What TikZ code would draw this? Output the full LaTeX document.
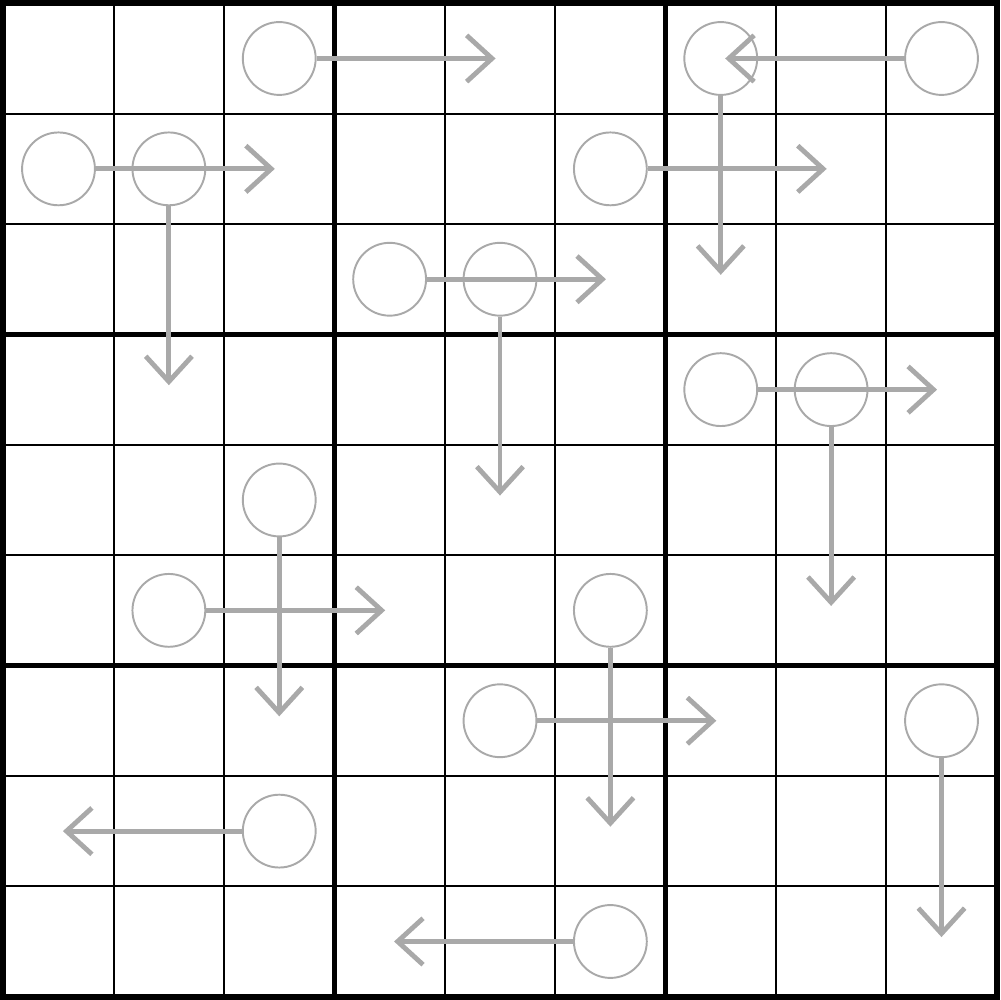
\documentclass[tikz,border=0pt]{standalone}
\usepackage{tikz}
\usetikzlibrary{arrows.meta}

\definecolor{arrowgray}{HTML}{A9A9A9}

\begin{document}
\begin{tikzpicture}[
	>={Straight Barb[length=2.3mm, width=4.2mm]},
	dot/.style={draw=arrowgray, line width=0.5pt, circle, minimum size=6.6mm, inner sep=0pt},
	arr/.style={->, draw=arrowgray, line width=1.25pt, shorten >=0.4mm}
]
\useasboundingbox (-0.03,-0.03) rectangle (9.03,9.03);

% grid
\draw[line width=0.45pt] (0,0) grid (9,9);
\draw[line width=1.3pt] (0,0) grid[step=3] (9,9);
\draw[line width=1.6pt] (0,0) rectangle (9,9);

% cell centres
\foreach \r in {1,...,9}
	\foreach \k in {1,...,9}
		\coordinate (c\r\k) at ({\k-0.5},{9.5-\r});

% arrows: circle cell / end cell
\foreach \s/\t in {13/15, 19/17, 17/37, 21/23, 22/42, 26/28, 34/36, 35/55, 47/49,
		48/68, 53/73, 62/64, 66/86, 75/77, 79/99, 83/81, 96/94} {
	\node[dot] (o\s) at (c\s) {};
	\draw[arr] (o\s) -- (c\t);
}
\end{tikzpicture}
\end{document}
